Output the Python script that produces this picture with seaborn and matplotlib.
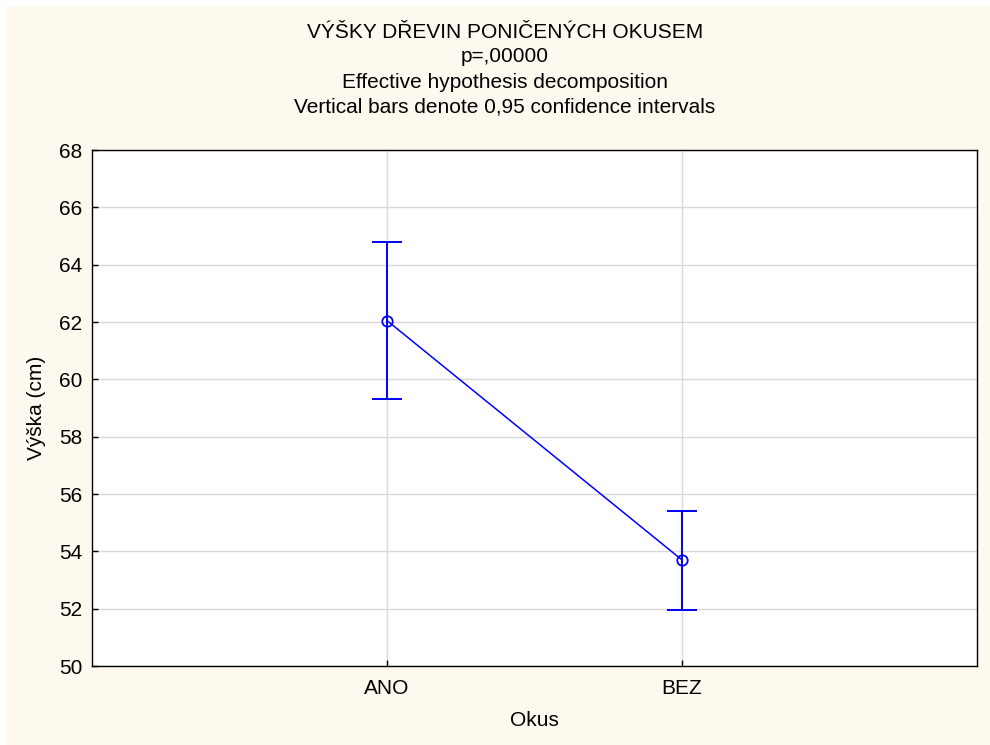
import numpy as np
import pandas as pd
import seaborn as sns
import matplotlib.pyplot as plt
from matplotlib.patches import Rectangle

# Means and 0.95 confidence intervals
categories = ["ANO", "BEZ"]
means = [62.05, 53.70]
ci_low = [59.30, 51.97]
ci_high = [64.80, 55.40]

title_lines = [
    "VÝŠKY DŘEVIN PONIČENÝCH OKUSEM",
    "p=,00000",
    "Effective hypothesis decomposition",
    "Vertical bars denote 0,95 confidence intervals",
]

sns.set_style("white")
plt.rcParams["font.family"] = ["Liberation Sans", "DejaVu Sans"]
plt.rcParams["font.size"] = 15
plt.rcParams["text.color"] = "black"
plt.rcParams["axes.labelcolor"] = "black"

df = pd.DataFrame({"Okus": categories, "mean": means})

fig = plt.figure(figsize=(9.9, 7.45), dpi=100, facecolor="white")
# cream page inside a thin white frame
fig.patches.append(Rectangle((7 / 990, 0.0), 1.0, 1 - 6 / 745, transform=fig.transFigure,
                             facecolor="#FDF9EF", edgecolor="none", zorder=-10))

ax = fig.add_axes([92 / 990, 1 - 666 / 745, (977 - 92) / 990, (666 - 150) / 745])
ax.set_facecolor("white")

blue = "#0000FF"
sns.pointplot(data=df, x="Okus", y="mean", errorbar=None, color=blue,
              markers="o", linestyles="-", ax=ax,
              markerfacecolor="none", markeredgecolor=blue, markersize=7.5,
              markeredgewidth=1.3, linewidth=1.1, zorder=5)

xpos = np.arange(len(categories))
err = [np.array(means) - np.array(ci_low), np.array(ci_high) - np.array(means)]
ax.errorbar(xpos, means, yerr=err, fmt="none", ecolor=blue, elinewidth=1.4,
            capsize=10.5, capthick=1.4, zorder=4)

ax.set_xlim(-1, 2)
ax.set_ylim(50, 68)
ax.set_yticks(np.arange(50, 69, 2))
ax.grid(True, color="#D9D9D9", linewidth=1.0)
ax.set_axisbelow(True)

for s in ax.spines.values():
    s.set_visible(True)
    s.set_color("black")
    s.set_linewidth(1.0)

ax.tick_params(axis="both", direction="in", length=4, width=1, colors="black",
               labelsize=15, top=False, right=False, left=True, bottom=True)
ax.tick_params(axis="y", pad=7)
ax.tick_params(axis="x", pad=9)

ax.set_xlabel("Okus", fontsize=15, labelpad=10)
ax.set_ylabel("Výška (cm)", fontsize=15, labelpad=9)

for i, line in enumerate(title_lines):
    fig.text(505 / 990, 1 - (32 + 25 * i) / 745, line, ha="center", va="center", fontsize=15)

fig.savefig("out.png", dpi=100, facecolor=fig.get_facecolor())
